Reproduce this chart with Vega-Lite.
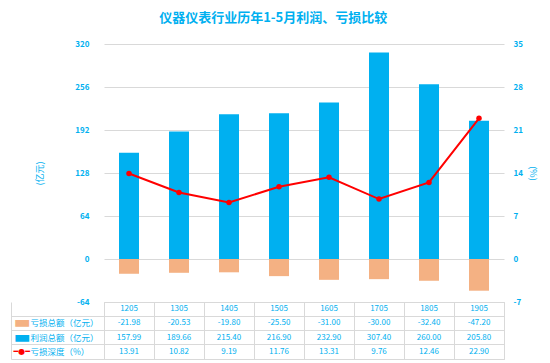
{
  "$schema": "https://vega.github.io/schema/vega-lite/v6.json",
  "background": "white",
  "padding": {"left": 10, "top": 12, "right": 5, "bottom": 4},
  "title": {"text": "仪器仪表行业历年1-5月利润、亏损比较", "fontSize": 13, "font": "Noto Sans CJK SC", "color": "#00b0f0", "fontWeight": "bold", "offset": 15, "anchor": "middle"},
  "config": {
    "locale": {"number": {"decimal": ".", "thousands": ",", "grouping": [3], "currency": ["", ""], "minus": "-"}},
    "view": {"stroke": null},
    "font": "Noto Sans CJK SC",
    "axis": {"labelFont": "Noto Sans CJK SC", "titleFont": "Noto Sans CJK SC"},
    "text": {"font": "Noto Sans CJK SC"}
  },
  "datasets": {
    "d": [
      {"cat": "1205", "loss": -21.98, "profit": 157.99, "depth": 13.91},
      {"cat": "1305", "loss": -20.53, "profit": 189.66, "depth": 10.82},
      {"cat": "1405", "loss": -19.80, "profit": 215.40, "depth": 9.19},
      {"cat": "1505", "loss": -25.50, "profit": 216.90, "depth": 11.76},
      {"cat": "1605", "loss": -31.00, "profit": 232.90, "depth": 13.31},
      {"cat": "1705", "loss": -30.00, "profit": 307.40, "depth": 9.76},
      {"cat": "1805", "loss": -32.40, "profit": 260.00, "depth": 12.46},
      {"cat": "1905", "loss": -47.20, "profit": 205.80, "depth": 22.90}
    ]
  },
  "bounds": "flush",
  "spacing": 0,
  "vconcat": [
    {
      "width": 400,
      "height": 258,
      "data": {"name": "d"},
      "encoding": {
        "x": {"field": "cat", "type": "nominal", "sort": null, "scale": {"type": "band", "paddingInner": 0.6, "paddingOuter": 0.3}, "axis": null}
      },
      "layer": [
        {
          "layer": [
            {
              "mark": {"type": "bar", "color": "#00b0f0"},
              "encoding": {
                "y": {"field": "profit", "type": "quantitative",
                  "scale": {"domain": [-64, 320], "nice": false},
                  "axis": {"values": [-64, 0, 64, 128, 192, 256, 320], "title": "(亿元)", "titleColor": "#00b0f0", "titleFontSize": 9, "titleFontWeight": "normal", "titlePadding": 30,
                    "labelColor": "#00b0f0", "labelFontSize": 8, "labelFontWeight": "bold", "labelPadding": 15, "ticks": false, "domain": false,
                    "grid": true, "gridColor": "#d9d9d9", "gridWidth": 1.2}
                }
              }
            },
            {
              "mark": {"type": "bar", "color": "#f4b183"},
              "encoding": {"y": {"field": "loss", "type": "quantitative"}}
            }
          ]
        },
        {
          "mark": {"type": "line", "color": "#ff0000", "strokeWidth": 2, "point": {"filled": true, "size": 30, "color": "#ff0000"}},
          "encoding": {
            "y": {"field": "depth", "type": "quantitative",
              "scale": {"domain": [-7, 35], "nice": false},
              "axis": {"orient": "right", "values": [-7, 0, 7, 14, 21, 28, 35], "title": "(%)", "titleColor": "#00b0f0", "titleFontSize": 9, "titleFontWeight": "normal", "titlePadding": 5,
                "labelColor": "#00b0f0", "labelFontSize": 8, "labelFontWeight": "bold", "labelPadding": 9, "ticks": false, "domain": false, "grid": false}
            }
          }
        }
      ],
      "resolve": {"scale": {"y": "independent"}}
    },
    {
      "width": 400,
      "height": 57,
      "view": {"stroke": "#d9d9d9"},
      "data": {"name": "d"},
      "layer": [
        {
          "transform": [{"fold": ["loss", "profit", "depth"], "as": ["row", "val"]}],
          "mark": {"type": "text", "fontSize": 8, "color": "#00b0f0"},
          "encoding": {
            "x": {"field": "cat", "type": "nominal", "sort": null, "scale": {"type": "band", "paddingInner": 0, "paddingOuter": 0},
              "axis": {"grid": true, "tickBand": "extent", "gridColor": "#d9d9d9", "labels": false, "ticks": false, "domain": false, "title": null}},
            "y": {"field": "row", "type": "nominal", "scale": {"type": "band", "domain": ["hdr", "loss", "profit", "depth"], "paddingInner": 0, "paddingOuter": 0},
              "axis": {"title": null, "domain": false, "ticks": false, "tickSize": 0, "grid": false,
                "labelAlign": "left", "labelPadding": 74, "labelColor": "#00b0f0", "labelFontSize": 8.5,
                "labelExpr": "datum.value == 'loss' ? '亏损总额（亿元）' : datum.value == 'profit' ? '利润总额（亿元）' : datum.value == 'depth' ? '亏损深度（%）' : ''"}},
            "text": {"field": "val", "type": "quantitative", "format": ".2f"}
          }
        },
        {
          "mark": {"type": "text", "fontSize": 8, "color": "#00b0f0"},
          "encoding": {
            "x": {"field": "cat", "type": "nominal", "sort": null},
            "y": {"datum": "hdr", "type": "nominal", "axis": null},
            "text": {"field": "cat", "type": "nominal"}
          }
        },
        {
          "transform": [{"fold": ["loss", "profit", "depth"], "as": ["row", "val"]}],
          "mark": {"type": "text", "opacity": 0},
          "encoding": {
            "y": {"field": "row", "type": "nominal",
              "axis": {"orient": "left", "offset": 93, "title": null, "ticks": false, "grid": false, "domain": true, "domainColor": "#d9d9d9",
                "labelAlign": "left", "labelPadding": -2, "labelFont": "DejaVu Sans",
                "labelFontSize": {"condition": {"test": "datum.value == 'depth'", "value": 8}, "value": 18},
                "labelColor": {"condition": [{"test": "datum.value == 'loss'", "value": "#f4b183"}, {"test": "datum.value == 'depth'", "value": "#ff0000"}], "value": "#00b0f0"},
                "labelExpr": "datum.value == 'loss' || datum.value == 'profit' ? '▬' : datum.value == 'depth' ? '━●━' : ''"}},
            "text": {"value": ""}
          }
        },
        {
          "transform": [{"fold": ["loss", "profit", "depth"], "as": ["row", "val"]}],
          "mark": {"type": "text", "opacity": 0},
          "encoding": {
            "y": {"field": "row", "type": "nominal",
              "axis": {"orient": "left", "title": null, "labels": false, "ticks": true, "tickSize": 93, "tickColor": "#d9d9d9", "bandPosition": 1,
                "grid": true, "gridColor": "#d9d9d9", "domain": false}},
            "text": {"value": ""}
          }
        }
      ],
      "resolve": {"axis": {"y": "independent"}}
    }
  ]
}
